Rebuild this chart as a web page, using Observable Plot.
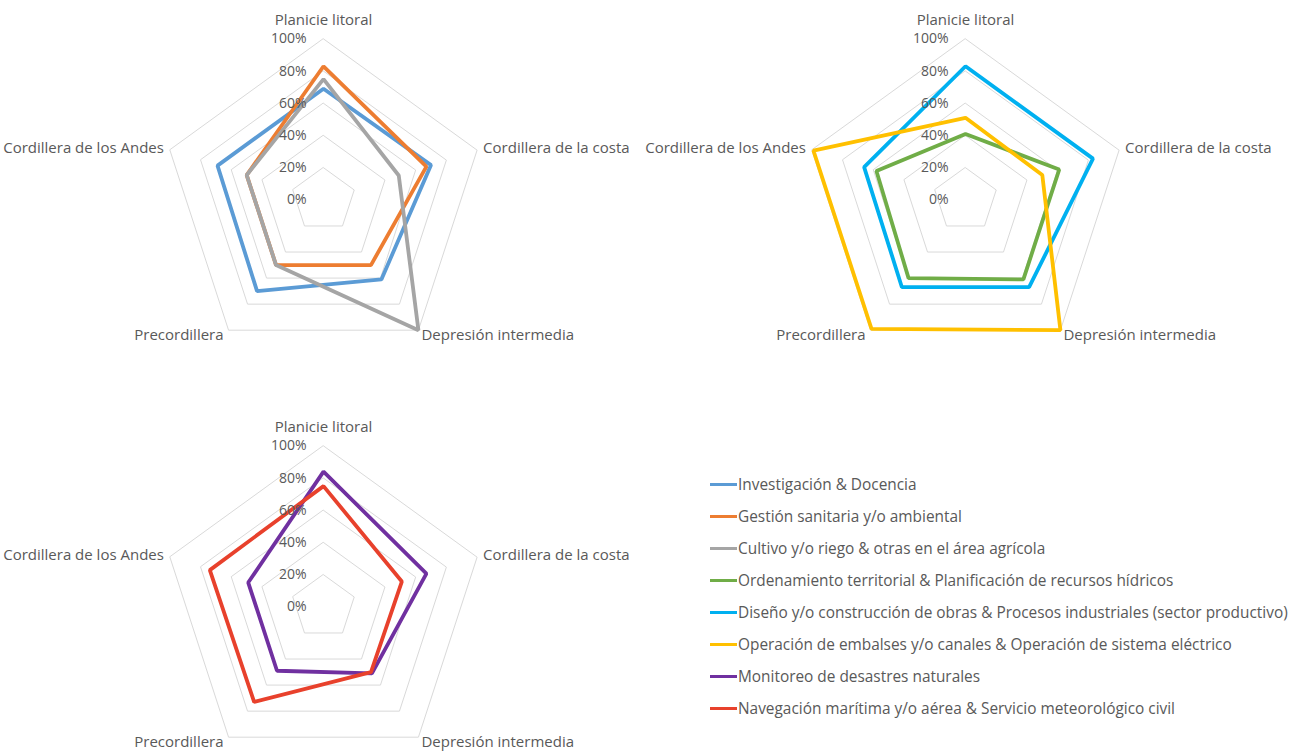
<!DOCTYPE html>
<html><head><meta charset="utf-8">
<script src="https://cdn.jsdelivr.net/npm/d3@7"></script>
<script src="https://cdn.jsdelivr.net/npm/@observablehq/plot@0.6"></script>
<style>
body{margin:0;background:#fff;}
#wrap{position:relative;width:1308px;height:751px;font-family:"Open Sans",sans-serif;}
#legend{position:absolute;left:710px;top:468px;color:#595959;font-size:15.4px;}
.item{display:flex;align-items:center;height:32px;white-space:nowrap;}
.sw{width:27px;height:3px;margin-right:1px;}
</style></head><body><div id="wrap"></div>
<script>
// Regions (clockwise from top)
const regions = ["Planicie litoral", "Cordillera de la costa", "Depresión intermedia", "Precordillera", "Cordillera de los Andes"];
const tickValues = [0, 0.2, 0.4, 0.6, 0.8, 1];
const tickLabels = ["0%", "20%", "40%", "60%", "80%", "100%"];

const seriesNames = [
  "Investigación & Docencia",
  "Gestión sanitaria y/o ambiental",
  "Cultivo y/o riego & otras en el área agrícola",
  "Ordenamiento territorial & Planificación de recursos hídricos",
  "Diseño y/o construcción de obras & Procesos industriales (sector productivo)",
  "Operación de embalses y/o canales & Operación de sistema eléctrico",
  "Monitoreo de desastres naturales",
  "Navegación marítima y/o aérea & Servicio meteorológico civil"
];
const seriesColors = ["#5B9BD5", "#ED7D31", "#A5A5A5", "#70AD47", "#00B0F0", "#FFC000", "#7030A0", "#E8412C"];
const seriesChart = ["A", "A", "A", "B", "B", "B", "C", "C"];

// values (%) in region order
const investigacion = [69, 70, 61, 70, 69];
const gestion = [83, 67, 50, 50, 50];
const cultivo = [75, 49, 100, 50, 50];
const ordenamiento = [41, 61, 61, 60, 58];
const diseno = [83, 83, 67, 67, 66];
const operacion = [51, 50, 100, 99, 99];
const monitoreo = [84, 67, 51, 49, 49];
const navegacion = [75, 51, 50, 73, 74];
const seriesValues = [investigacion, gestion, cultivo, ordenamiento, diseno, operacion, monitoreo, navegacion];

const charts = ["A", "B", "C"];
const chartCol = {A: "L", B: "R", C: "L"};
const chartRow = {A: "T", B: "T", C: "B"};

const ang = i => i * 2 * Math.PI / regions.length;
const px = (v, i) => v * Math.sin(ang(i));
const py = (v, i) => v * Math.cos(ang(i));

const lineData = [];
seriesNames.forEach((s, k) => {
  seriesValues[k].forEach((v, i) => {
    const c = seriesChart[k];
    lineData.push({series: s, col: chartCol[c], row: chartRow[c], x: px(v / 100, i), y: py(v / 100, i)});
  });
});

const gridData = [];
const tickData = [];
const labelData = [];
charts.forEach(c => {
  tickValues.slice(1).forEach(L => regions.forEach((r, i) =>
    gridData.push({col: chartCol[c], row: chartRow[c], level: L, x: px(L, i), y: py(L, i)})));
  tickValues.forEach((v, j) => tickData.push({col: chartCol[c], row: chartRow[c], label: tickLabels[j], x: 0, y: v}));
  regions.forEach((r, i) => labelData.push({col: chartCol[c], row: chartRow[c], i, label: r, x: px(1, i), y: py(1, i)}));
});

const labelStyle = [
  {textAnchor: "middle", dx: 0, dy: -19},
  {textAnchor: "start", dx: 6, dy: -2},
  {textAnchor: "start", dx: 3, dy: 5},
  {textAnchor: "end", dx: -5, dy: 5},
  {textAnchor: "end", dx: -6, dy: -2}
];

const chart = Plot.plot({
  width: 1308, height: 751,
  marginLeft: 2, marginRight: 22, marginTop: 0, marginBottom: 0,
  x: {domain: [-1.9876, 1.9876], axis: null},
  y: {domain: [-0.8916, 1.2322], axis: null},
  fx: {domain: ["L", "R"], paddingInner: 0, paddingOuter: 0, axis: null},
  fy: {domain: ["T", "B"], paddingInner: 0.1593, paddingOuter: 0, axis: null},
  color: {domain: seriesNames, range: seriesColors},
  style: {fontFamily: "Open Sans", fontSize: "14px", color: "#595959", background: "white"},
  marks: [
    Plot.line(gridData, {x: "x", y: "y", z: "level", fx: "col", fy: "row", curve: "linear-closed", stroke: "#D9D9D9", strokeWidth: 1}),
    Plot.line(lineData, {x: "x", y: "y", z: "series", stroke: "series", fx: "col", fy: "row", curve: "linear-closed", strokeWidth: 3.8, strokeLinejoin: "miter"}),
    Plot.text(tickData, {x: "x", y: "y", text: "label", fx: "col", fy: "row", textAnchor: "end", dx: -17, fill: "#595959", fontSize: 14}),
    ...labelStyle.map((st, i) => Plot.text(labelData.filter(d => d.i === i), {x: "x", y: "y", text: "label", fx: "col", fy: "row", fill: "#595959", fontSize: 15, ...st}))
  ]
});
const wrap = document.getElementById("wrap");
wrap.appendChild(chart);

const legend = document.createElement("div");
legend.id = "legend";
seriesNames.forEach((s, k) => {
  const it = document.createElement("div");
  it.className = "item";
  const sw = document.createElement("span");
  sw.className = "sw";
  sw.style.background = seriesColors[k];
  const tx = document.createElement("span");
  tx.textContent = s;
  it.appendChild(sw); it.appendChild(tx);
  legend.appendChild(it);
});
wrap.appendChild(legend);
</script>
</body></html>
